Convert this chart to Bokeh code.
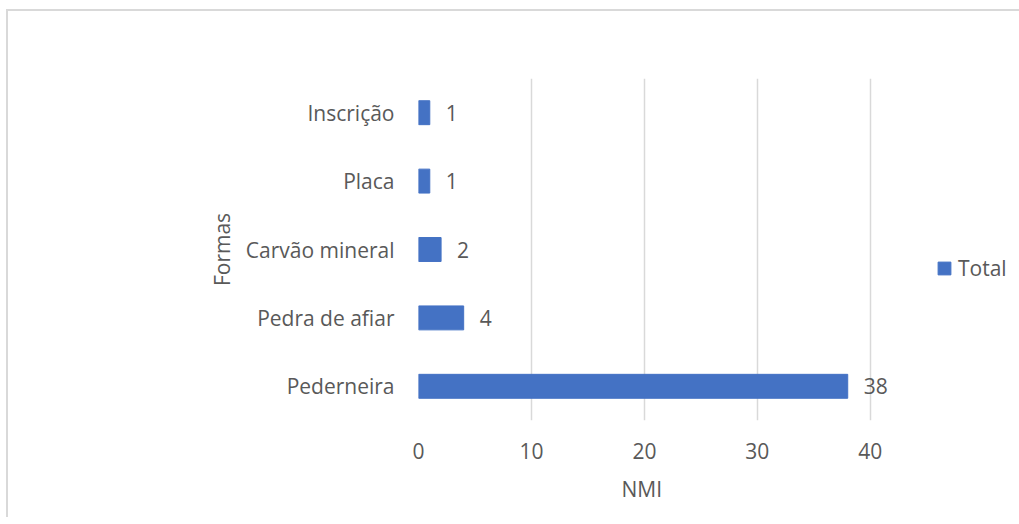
from bokeh.plotting import figure
from bokeh.models import ColumnDataSource, Legend, LegendItem, FixedTicker, Range1d, LabelSet, Title
from bokeh.core.properties import value
from bokeh.embed import file_html
from bokeh.resources import INLINE

categories = ["Pederneira", "Pedra de afiar", "Carvão mineral", "Placa", "Inscrição"]
values = [38, 4, 2, 1, 1]
x_ticks = [0, 10, 20, 30, 40]
series_name = "Total"
x_label = "NMI"
y_label = "Formas"

FONT = "Open Sans"
TXT = "#595959"
BAR = "#4472C4"
GRID = "#D9D9D9"
FS = "21px"

src = ColumnDataSource(dict(cat=categories, val=values, lab=[str(v) for v in values]))

# x range extended past 40 (invisible: no outline) so the "38" label is not clipped
p = figure(y_range=categories, x_range=Range1d(0, 44),
           width=1011, height=513, frame_width=497, frame_height=342,
           min_border_left=410, min_border_right=104, min_border_top=67, min_border_bottom=96,
           output_backend="svg", toolbar_location=None)
p.styles = {"border-left": "2px solid #D9D9D9", "border-top": "2px solid #D9D9D9",
            "margin-left": "6px", "margin-top": "9px"}

r = p.hbar(y="cat", right="val", height=0.35, source=src, color=BAR)
labels = LabelSet(x="val", y="cat", text="lab", source=src, x_offset=16,
                  text_align="left", text_baseline="middle",
                  text_font=value(FONT), text_font_size=FS, text_color=TXT)
p.add_layout(labels)

p.outline_line_color = None
p.ygrid.grid_line_color = None
p.xgrid.grid_line_color = GRID
p.xgrid.grid_line_width = 1.5
p.xaxis.ticker = FixedTicker(ticks=x_ticks)

for ax in (p.xaxis[0], p.yaxis[0]):
    ax.axis_line_color = None
    ax.major_tick_line_color = None
    ax.minor_tick_line_color = None
    ax.major_tick_out = 0
    ax.minor_tick_out = 0
    ax.major_label_text_font = FONT
    ax.major_label_text_font_size = FS
    ax.major_label_text_color = TXT
    ax.axis_label_text_font = FONT
    ax.axis_label_text_font_size = FS
    ax.axis_label_text_color = TXT
    ax.axis_label_text_font_style = "normal"

p.yaxis.axis_label = y_label
p.xaxis.major_label_standoff = 22
p.yaxis.major_label_standoff = 24
p.yaxis.axis_label_standoff = 7

# x-axis title centred under the 0..40 span (value 20), not under the extended frame
xt = Title(text=x_label, align="left", offset=203, vertical_align="top", standoff=26,
           text_font=FONT, text_font_size=FS, text_color=TXT, text_font_style="normal")
p.add_layout(xt, "below")

legend = Legend(items=[LegendItem(label=series_name, renderers=[r])],
                location=(21, 138), orientation="vertical",
                border_line_color=None, background_fill_alpha=0,
                padding=0, margin=0, glyph_width=16, glyph_height=16,
                label_standoff=6, label_text_font=FONT, label_text_font_size=FS,
                label_text_color=TXT)
p.add_layout(legend, "right")

open("out.html", "w").write(file_html(p, INLINE))
